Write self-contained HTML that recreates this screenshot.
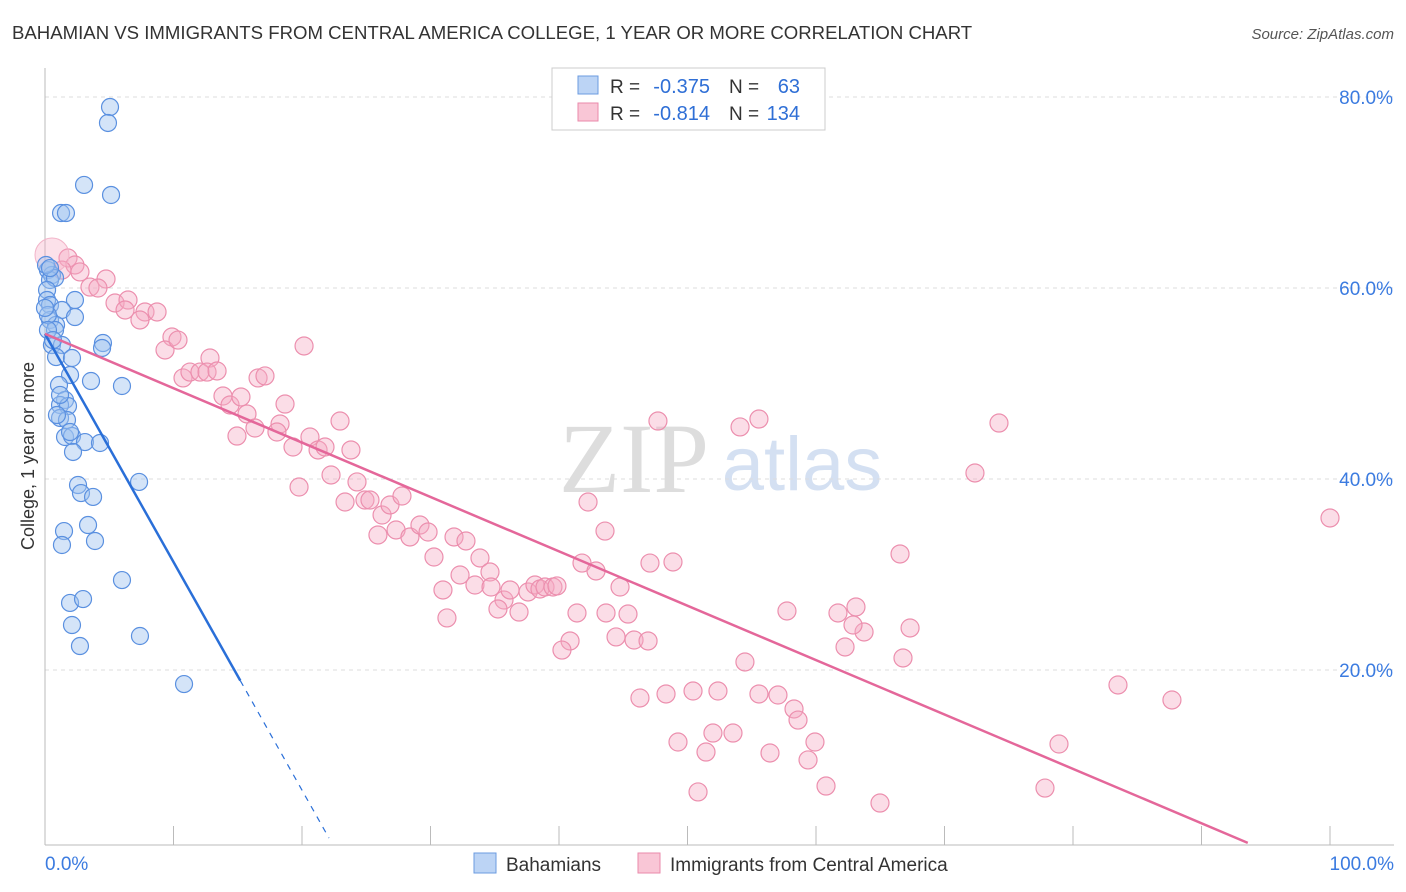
<!DOCTYPE html>
<html><head><meta charset="utf-8">
<style>
body{margin:0;background:#fff;font-family:"Liberation Sans",sans-serif;}
svg{display:block}
</style></head><body>
<svg id="c" width="1406" height="892" xmlns="http://www.w3.org/2000/svg">
<text x="12" y="39" font-size="18.6" fill="#333">BAHAMIAN VS IMMIGRANTS FROM CENTRAL AMERICA COLLEGE, 1 YEAR OR MORE CORRELATION CHART</text>
<text x="1394" y="39" font-size="15" fill="#555" text-anchor="end" font-style="italic">Source: ZipAtlas.com</text>
<text x="634" y="492" font-size="100" fill="#ddd" font-family="Liberation Serif,serif" text-anchor="middle">ZIP</text>
<text x="802" y="490" font-size="76" fill="#d4e0f2" text-anchor="middle">atlas</text>
<g id="grid"></g><g id="pts"></g><g id="lines"></g>
<text transform="translate(34,456) rotate(-90)" font-size="18" fill="#333" text-anchor="middle">College, 1 year or more</text>
<g>
<rect x="552" y="68" width="273" height="62" fill="#fff" stroke="#ccc"/>
<rect x="578" y="76" width="20" height="18" fill="#bcd4f5" stroke="#6b9be0"/>
<rect x="578" y="103" width="20" height="18" fill="#f9c6d6" stroke="#ea8aab"/>
<text x="610" y="93" font-size="19" fill="#333">R =</text>
<text x="710" y="93" font-size="20" fill="#2f6fd6" text-anchor="end">-0.375</text>
<text x="729" y="93" font-size="19" fill="#333">N =</text>
<text x="800" y="93" font-size="20" fill="#2f6fd6" text-anchor="end">63</text>
<text x="610" y="120" font-size="19" fill="#333">R =</text>
<text x="710" y="120" font-size="20" fill="#2f6fd6" text-anchor="end">-0.814</text>
<text x="729" y="120" font-size="19" fill="#333">N =</text>
<text x="800" y="120" font-size="20" fill="#2f6fd6" text-anchor="end">134</text>
</g>
<g>
<rect x="474" y="853" width="22" height="20" fill="#bcd4f5" stroke="#6b9be0"/>
<text x="506" y="871" font-size="19" fill="#333">Bahamians</text>
<rect x="638" y="853" width="22" height="20" fill="#f9c6d6" stroke="#ea8aab"/>
<text x="670" y="871" font-size="19" fill="#333">Immigrants from Central America</text>
</g>
<text x="45" y="870" font-size="19" fill="#3b7be0">0.0%</text>
<text x="1394" y="870" font-size="19" fill="#3b7be0" text-anchor="end">100.0%</text>
</svg>
<script>
const yTicks=[20,40,60,80];
const xTicks=[0,10,20,30,40,50,60,70,80,90,100];
const bluePx=[[110,107],[108,123],[84,185],[111,195],[61,213],[66,213],[48,270],[52,275],[50,280],[55,278],[47,290],[47,300],[50,305],[75,300],[62,310],[75,317],[50,320],[56,325],[55,330],[52,345],[62,345],[103,343],[102,348],[56,357],[72,358],[70,375],[122,386],[59,385],[91,381],[65,400],[60,405],[68,406],[60,418],[67,420],[65,437],[72,436],[70,432],[85,442],[100,443],[73,452],[139,482],[78,485],[81,493],[93,497],[88,525],[64,531],[62,545],[95,541],[122,580],[70,603],[83,599],[72,625],[80,646],[140,636],[184,684],[48,315],[48,330],[45,308],[46,265],[50,268],[53,340],[60,395],[57,415]];
const pinkPx=[[68,258],[75,265],[62,270],[80,272],[106,279],[90,287],[98,288],[115,303],[128,300],[125,310],[145,312],[140,320],[157,312],[172,337],[165,350],[178,340],[210,358],[304,346],[183,378],[190,372],[200,372],[207,372],[217,371],[258,378],[265,376],[223,396],[230,405],[241,397],[247,414],[255,428],[237,436],[280,424],[277,432],[285,404],[293,447],[310,437],[318,450],[325,447],[340,421],[351,450],[299,487],[331,475],[357,482],[345,502],[365,500],[370,500],[382,515],[390,505],[402,496],[396,530],[410,537],[420,525],[428,532],[378,535],[434,557],[454,537],[466,541],[480,558],[443,590],[460,575],[475,585],[490,572],[491,587],[447,618],[504,600],[498,609],[510,590],[519,612],[528,592],[535,585],[540,589],[545,587],[553,587],[557,586],[588,502],[605,531],[582,563],[596,571],[620,587],[628,614],[577,613],[606,613],[616,637],[570,641],[562,650],[634,640],[650,563],[673,562],[658,421],[648,641],[640,698],[666,694],[693,691],[718,691],[740,427],[759,419],[745,662],[759,694],[778,695],[787,611],[794,709],[798,720],[713,733],[733,733],[678,742],[706,752],[770,753],[815,742],[808,760],[826,786],[698,792],[880,803],[838,613],[856,607],[845,647],[864,632],[853,625],[900,554],[910,628],[903,658],[975,473],[999,423],[1059,744],[1045,788],[1118,685],[1172,700],[1330,518]];
const blueX=bluePx.map(p=>+((p[0]-45)/12.85).toFixed(2)), blueY=bluePx.map(p=>+((861-p[1])/9.55).toFixed(2));
const pinkX=pinkPx.map(p=>+((p[0]-45)/12.85).toFixed(2)), pinkY=pinkPx.map(p=>+((861-p[1])/9.55).toFixed(2));
const blueLine=[0,55.2,22.1,2.4];
const pinkLine=[0,55.2,93.6,1.9];
const X=v=>45+v*12.85, Y=v=>861-v*9.55;
const NS="http://www.w3.org/2000/svg";
function mk(tag,attrs,parent){const e=document.createElementNS(NS,tag);for(const k in attrs)e.setAttribute(k,attrs[k]);parent.appendChild(e);return e;}
const g=document.getElementById('grid');
yTicks.forEach(t=>{
 const l=mk('line',{x1:45,x2:1394,y1:Y(t),y2:Y(t),stroke:'#ddd','stroke-dasharray':'4,4'},g);
 
 
 const tx=mk('text',{x:1393,y:Y(t)+7,'font-size':19,fill:'#3b7be0','text-anchor':'end'},g);tx.textContent=t.toFixed(1)+'%';
 
 
});
mk('line',{x1:45,x2:45,y1:68,y2:845,stroke:'#bbb'},g);
mk('line',{x1:45,x2:1394,y1:845,y2:845,stroke:'#bbb'},g);
xTicks.forEach(t=>{const l=mk('line',{x1:X(t),x2:X(t),y1:826,y2:845,stroke:'#bbb'},g);
 
 });
const pg=document.getElementById('pts');
pinkX.forEach((x,i)=>{const c=mk('circle',{cx:X(x),cy:Y(pinkY[i]),r:9,fill:'rgba(246,170,196,0.4)',stroke:'#ec8fae','stroke-width':1.2},pg);
 
 });
const big=mk('circle',{cx:52,cy:255,r:17,fill:'rgba(246,170,196,0.35)',stroke:'#f2b3c8'},pg);


blueX.forEach((x,i)=>{const c=mk('circle',{cx:X(x),cy:Y(blueY[i]),r:8.5,fill:'rgba(160,195,240,0.45)',stroke:'#5a90e0','stroke-width':1.2},pg);
 
 });
const lg=document.getElementById('lines');
const bx=v=>blueLine[1]+(blueLine[3]-blueLine[1])*(v-blueLine[0])/(blueLine[2]-blueLine[0]);
const l1=mk('line',{x1:X(0),y1:Y(bx(0)),x2:X(15.2),y2:Y(bx(15.2)),stroke:'#2a6fd8','stroke-width':2.5},lg);


const l2=mk('line',{x1:X(15.2),y1:Y(bx(15.2)),x2:X(blueLine[2]),y2:Y(blueLine[3]),stroke:'#2a6fd8','stroke-width':1.2,'stroke-dasharray':'6,6'},lg);


const l3=mk('line',{x1:X(pinkLine[0]),y1:Y(pinkLine[1]),x2:X(pinkLine[2]),y2:Y(pinkLine[3]),stroke:'#e4679a','stroke-width':2.5},lg);


</script>
</body></html>
